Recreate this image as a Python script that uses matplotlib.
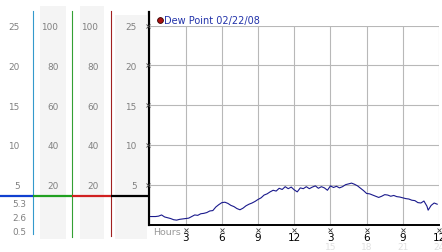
import matplotlib
matplotlib.use("Agg")
import matplotlib.pyplot as plt
from matplotlib.patches import Rectangle

W, H = 442, 253

# ---- data ----
hours = [0.0, 0.25, 0.5, 0.75, 1.0, 1.25, 1.5, 1.75, 2.0, 2.25, 2.5, 2.75,
         3.0, 3.25, 3.5, 3.75, 4.0, 4.25, 4.5, 4.75, 5.0, 5.25, 5.5, 5.75,
         6.0, 6.25, 6.5, 6.75, 7.0, 7.25, 7.5, 7.75, 8.0, 8.25, 8.5, 8.75,
         9.0, 9.25, 9.5, 9.75, 10.0, 10.25, 10.5, 10.75, 11.0, 11.25, 11.5, 11.75,
         12.0, 12.25, 12.5, 12.75, 13.0, 13.25, 13.5, 13.75, 14.0, 14.25, 14.5, 14.75,
         15.0, 15.25, 15.5, 15.75, 16.0, 16.25, 16.5, 16.75, 17.0, 17.25, 17.5, 17.75,
         18.0, 18.25, 18.5, 18.75, 19.0, 19.25, 19.5, 19.75, 20.0, 20.25, 20.5, 20.75,
         21.0, 21.25, 21.5, 21.75, 22.0, 22.25, 22.5, 22.75, 23.0, 23.1, 23.35, 23.6, 23.85]
dew_point = [1.0, 1.0, 1.0, 1.05, 1.2, 0.95, 0.85, 0.75, 0.6, 0.55, 0.65, 0.7,
             0.75, 0.8, 1.0, 1.2, 1.15, 1.35, 1.4, 1.5, 1.7, 1.75, 2.2, 2.5,
             2.75, 2.8, 2.65, 2.4, 2.25, 2.0, 1.85, 2.05, 2.35, 2.55, 2.7, 2.9,
             3.15, 3.35, 3.7, 3.85, 4.1, 4.3, 4.2, 4.55, 4.4, 4.75, 4.5, 4.7,
             4.35, 4.1, 4.6, 4.5, 4.75, 4.5, 4.7, 4.85, 4.55, 4.75, 4.6, 4.3,
             4.85, 4.65, 4.8, 4.6, 4.75, 5.0, 5.1, 5.2, 5.05, 4.85, 4.55, 4.25,
             3.9, 3.85, 3.7, 3.55, 3.4, 3.55, 3.75, 3.7, 3.55, 3.65, 3.5, 3.45,
             3.35, 3.25, 3.2, 3.05, 3.0, 2.75, 2.7, 2.95, 2.3, 1.8, 2.4, 2.7, 2.55]

x_ticks = [3, 6, 9, 12, 15, 18, 21, 24]
x_tick_labels = ["3", "6", "9", "12", "3", "6", "9", "12"]
x_ticks_24h = [15, 18, 21, 24]
x_tick_labels_24h = ["15", "18", "21", "24"]
y_grid = [5, 10, 15, 20, 25]

col1_vals = [5, 10, 15, 20, 25]
col1_labels = ["5", "10", "15", "20", "25"]
col2_vals = [20, 40, 60, 80, 100]
col2_labels = ["20", "40", "60", "80", "100"]
col3_vals = [20, 40, 60, 80, 100]
col3_labels = ["20", "40", "60", "80", "100"]
col4_vals = [5, 10, 15, 20, 25]
col4_labels = ["5", "10", "15", "20", "25"]
col1_extra = ["5.3", "2.6", "0.5"]
legend_label = "Dew Point 02/22/08"

# ---- layout (pixels) ----
x0, x1 = 149.5, 439.0
y_bot, y_top = 225.5, 26.5


def fx(p):
    return p / W


def fy(p):
    return 1 - p / H


fig = plt.figure(figsize=(W / 100, H / 100), dpi=100)
fig.patch.set_facecolor("white")

# overlay for decorations in pixel coords
ov = fig.add_axes([0, 0, 1, 1], zorder=0)
ov.set_xlim(0, W)
ov.set_ylim(H, 0)
ov.axis("off")

# gray columns
for (a, b, t) in [(40, 66, 7), (80, 104, 7), (115, 147, 16)]:
    ov.add_patch(Rectangle((a, t), b - a, 240 - t, facecolor="#f4f4f4", edgecolor="none"))

# colored vertical lines
ov.plot([33, 33], [12, 235], color="#3399cc", lw=0.8)
ov.plot([72, 72], [12, 238], color="#33a033", lw=0.8)
ov.plot([111, 111], [12, 237], color="#a02020", lw=0.8)
# left black spine
ov.plot([148.5, 148.5], [13, 225.5], color="black", lw=1.6)
# indicator line
yi = 197
ov.plot([0, 33], [yi, yi], color="#1040d0", lw=1.6, solid_capstyle="butt")
ov.plot([33, 72], [yi, yi], color="#20a020", lw=1.6, solid_capstyle="butt")
ov.plot([72, 111], [yi, yi], color="#d02020", lw=1.6, solid_capstyle="butt")
ov.plot([111, 148.5], [yi, yi], color="black", lw=1.6, solid_capstyle="butt")

# extra labels in col1
for lab, yy in zip(col1_extra, [205, 218.5, 232.5]):
    ov.text(12.5, yy, lab, ha="left", va="center", fontsize=6.4, color="#808080")

# legend
ov.plot([160], [20.5], "o", ms=4.2, mfc="#aa1111", mec="#330000", mew=0.6)
ov.text(164.5, 21, legend_label, ha="left", va="center", fontsize=7, color="#2233aa")

# column label axes
bottom = fy(y_bot)
height = (y_bot - y_top) / H
for right, vals, labs, top in [(20, col1_vals, col1_labels, 25),
                               (59, col2_vals, col2_labels, 100),
                               (99, col3_vals, col3_labels, 100),
                               (137, col4_vals, col4_labels, 25)]:
    ca = fig.add_axes([fx(right + 1.5), bottom, 1 / W, height], zorder=1)
    ca.set_ylim(0, top)
    ca.set_yticks(vals)
    ca.set_yticklabels(labs)
    ca.tick_params(axis="y", length=0, pad=1.5, labelsize=6.4, labelcolor="#808080")
    ca.set_xticks([])
    for s in ca.spines.values():
        s.set_visible(False)
    ca.patch.set_alpha(0)

# main axes
ax = fig.add_axes([fx(x0), bottom, (x1 - x0) / W, height], zorder=2)
ax.patch.set_alpha(0)
ax.set_xlim(0, 24)
ax.set_ylim(0, 25)
for g in x_ticks:
    ax.axvline(g, color="#b8b8b8", lw=0.8, zorder=1)
for g in y_grid:
    ax.axhline(g, color="#b8b8b8", lw=0.8, zorder=1)
ax.plot(hours, dew_point, color="#1a1a8c", lw=0.8, zorder=3)

for s in ["top", "right", "left"]:
    ax.spines[s].set_visible(False)
ax.spines["bottom"].set_linewidth(1.4)
ax.spines["bottom"].set_color("black")
ax.set_yticks([])
ax.set_xticks(x_ticks)
ax.set_xticklabels(x_tick_labels)
ax.tick_params(axis="x", length=0, pad=5.2, labelsize=7.5, labelcolor="black")

# tick markers
ax.plot(x_ticks, [-0.7] * len(x_ticks), "x", ms=2.4, mew=0.6, color="#444444", clip_on=False)
ax.plot([-0.13] * len(y_grid), y_grid, "x", ms=2.4, mew=0.6, color="#444444", clip_on=False)

for xt, lab in zip(x_ticks_24h, x_tick_labels_24h):
    ax.text(xt, -2.75, lab, ha="center", va="center", fontsize=6.5, color="#e0e0e0", clip_on=False)

ax.text(0.3, -0.85, "Hours", ha="left", va="center", fontsize=6.8, color="#999999", clip_on=False)

fig.savefig("out.png", dpi=100)
